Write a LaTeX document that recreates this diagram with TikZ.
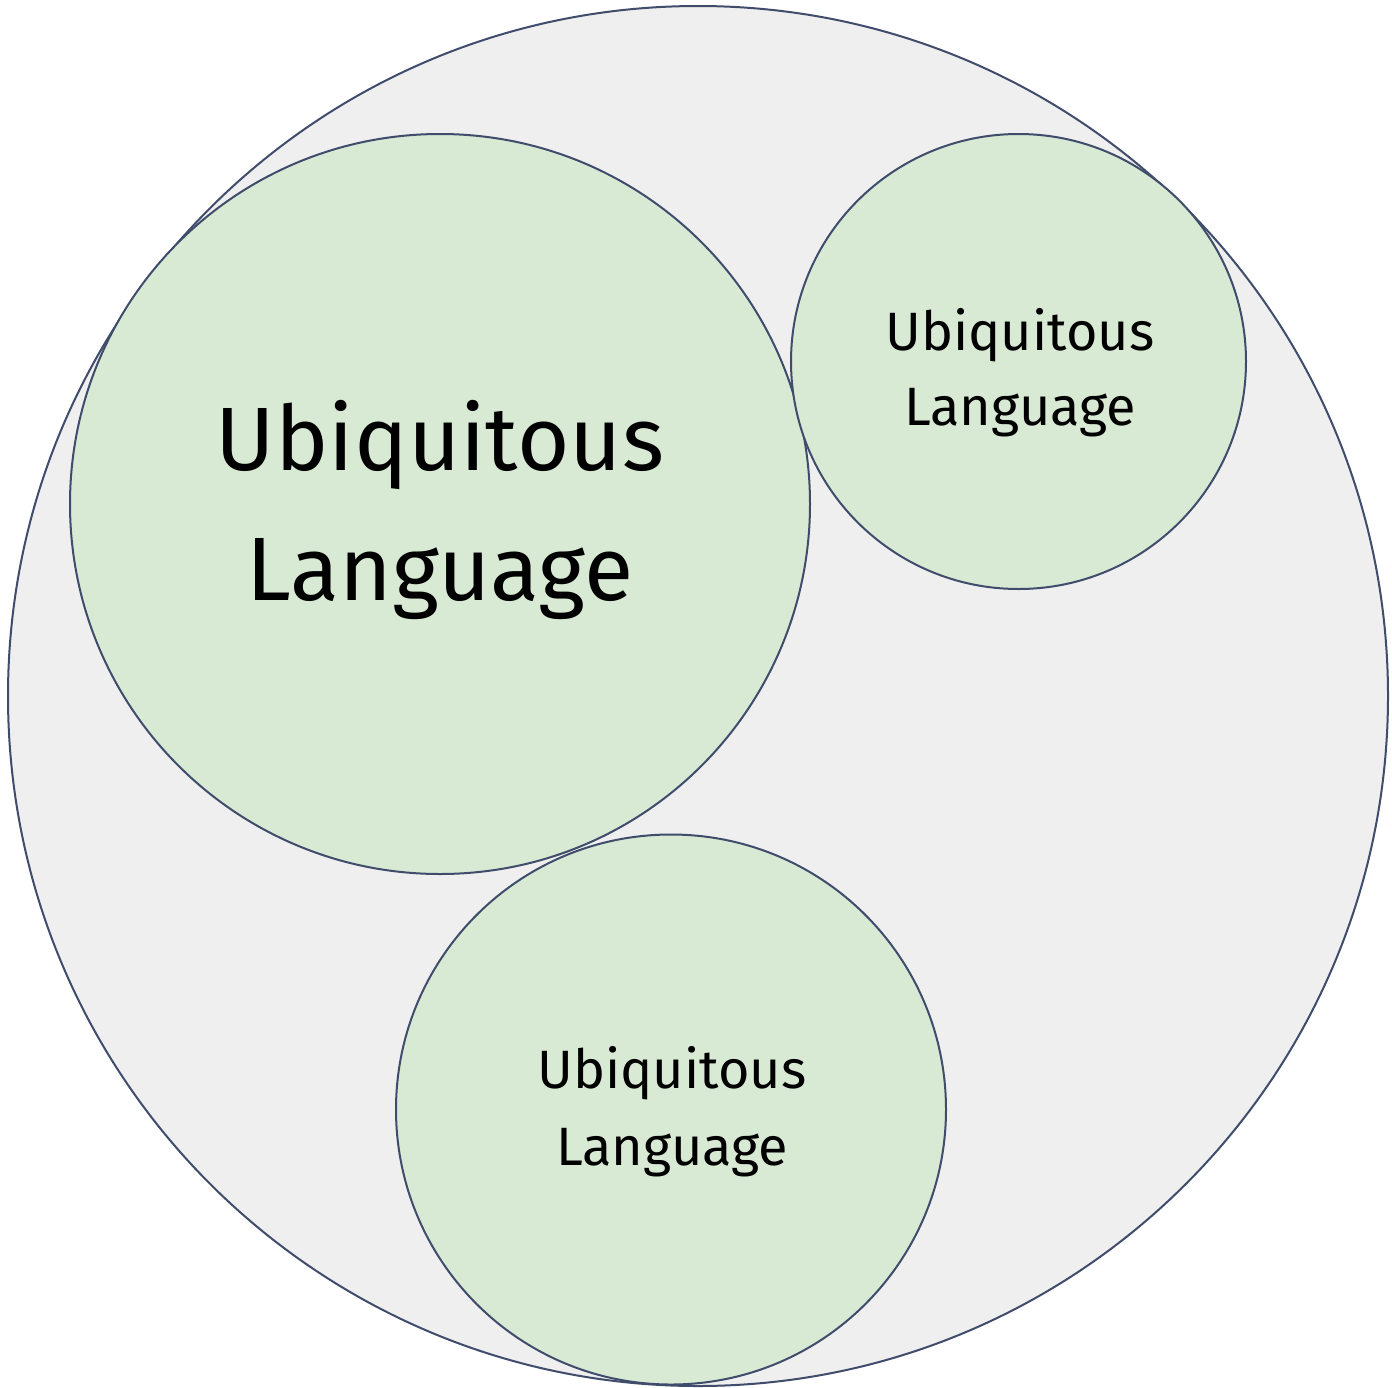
\documentclass[tikz,border=0pt]{standalone}
\usepackage{fontspec}
\setmainfont{Fira Sans}
\definecolor{ringline}{HTML}{3F4C6B}
\definecolor{outerfill}{HTML}{EFEFEF}
\definecolor{ctxfill}{HTML}{D8E9D4}
\begin{document}
\begin{tikzpicture}[x=0.5pt,y=-0.5pt,
  ring/.style={draw=ringline,line width=1pt,circle,inner sep=0pt,minimum size=#1},
  bigtxt/.style={anchor=base,inner sep=0pt,font=\fontsize{45pt}{54pt}\selectfont},
  smalltxt/.style={anchor=base,inner sep=0pt,font=\fontsize{27pt}{32pt}\selectfont}]
\useasboundingbox (0,0) rectangle (1392,1387);
% outer domain circle
\node[ring=690pt,fill=outerfill] (domain) at (698,696) {};
% bounded contexts
\node[ring=370pt,fill=ctxfill] (big) at (440,504) {};
\node[ring=227.5pt,fill=ctxfill] (tr) at (1018.5,361.5) {};
\node[ring=275pt,fill=ctxfill] (bot) at (671,1109.5) {};
% labels
\node[bigtxt] (big1) at (440,470) {Ubiquitous};
\node[bigtxt] (big2) at (440,600) {Language};
\node[smalltxt] (tr1) at (1020,350) {Ubiquitous};
\node[smalltxt] (tr2) at (1020,425) {Language};
\node[smalltxt] (bot1) at (672,1088) {Ubiquitous};
\node[smalltxt] (bot2) at (672,1165) {Language};
\end{tikzpicture}
\end{document}
